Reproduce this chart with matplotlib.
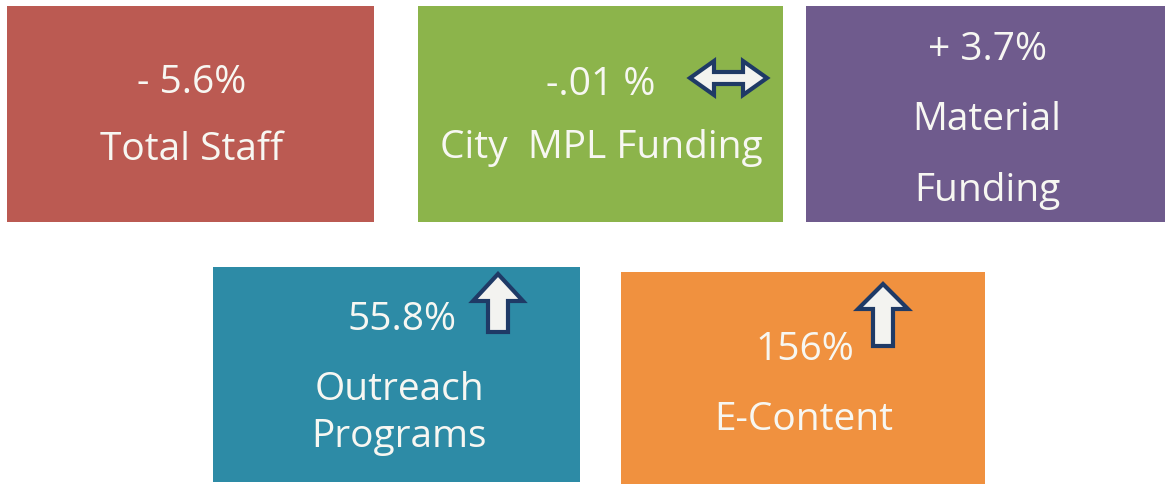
import matplotlib
matplotlib.use("Agg")
import matplotlib.pyplot as plt
from matplotlib.patches import Rectangle, Polygon

# ---- data ----
values = ["- 5.6%", "-.01 %", "+ 3.7%", "55.8%", "156%"]
labels = [["Total Staff"], ["City  MPL Funding"], ["Material", "Funding"],
          ["Outreach", "Programs"], ["E-Content"]]
trends = ["none", "flat", "none", "up", "up"]

# ---- layout / style ----
colors = ["#BB5A52", "#8CB44B", "#6F5B8D", "#2D8BA6", "#F0913F"]
boxes = [(7, 7, 374, 223), (418, 7, 783, 223), (806, 7, 1165, 223),
         (213, 268, 580, 483), (621, 273, 985, 485)]
value_pos = [(192, 93), (601, 95), (988, 60), (402, 330), (805, 360)]
label_base = [[160], [158], [130, 201], [400, 447], [430]]
label_cx = [192, 601, 987, 399, 804]
arrow_geo = [None, (690, 767, 79), None, (473, 523, 275, 302, 333),
             (858, 908, 285, 310, 347)]

W, H = 1171, 485
fig = plt.figure(figsize=(W / 100, H / 100), dpi=100)
ax = fig.add_axes([0, 0, 1, 1])
ax.set_xlim(0, W)
ax.set_ylim(H, 0)
ax.axis("off")

FONT = "Open Sans"
FS = 28
TC = "#F7F7F2"
EDGE = "#1F3A66"
FILL = "#F3F3F0"

for i in range(len(values)):
    x0, y0, x1, y1 = boxes[i]
    ax.add_patch(Rectangle((x0, y0), x1 - x0, y1 - y0, facecolor=colors[i],
                           edgecolor="none"))
    vx, vy = value_pos[i]
    ax.text(vx, vy, values[i], ha="center", va="baseline", fontsize=FS,
            family=FONT, color=TC)
    for line, by in zip(labels[i], label_base[i]):
        ax.text(label_cx[i], by, line, ha="center", va="baseline",
                fontsize=FS, family=FONT, color=TC)
    if trends[i] == "flat":
        xa, xb, yc = arrow_geo[i]
        hh, sh, hl = 17, 6, 24
        pts = [(xa, yc), (xa + hl, yc - hh), (xa + hl, yc - sh), (xb - hl, yc - sh),
               (xb - hl, yc - hh), (xb, yc), (xb - hl, yc + hh), (xb - hl, yc + sh),
               (xa + hl, yc + sh), (xa + hl, yc + hh)]
        ax.add_patch(Polygon(pts, closed=True, facecolor=FILL, edgecolor=EDGE,
                             linewidth=3.0, joinstyle="miter"))
    elif trends[i] == "up":
        xa, xb, yt, yh, yb = arrow_geo[i]
        cx = (xa + xb) / 2
        sw = 10
        pts = [(cx, yt), (xb, yh), (cx + sw, yh), (cx + sw, yb), (cx - sw, yb),
               (cx - sw, yh), (xa, yh)]
        ax.add_patch(Polygon(pts, closed=True, facecolor=FILL, edgecolor=EDGE,
                             linewidth=3.0, joinstyle="miter"))

fig.savefig("out.png", dpi=100, facecolor="white")
